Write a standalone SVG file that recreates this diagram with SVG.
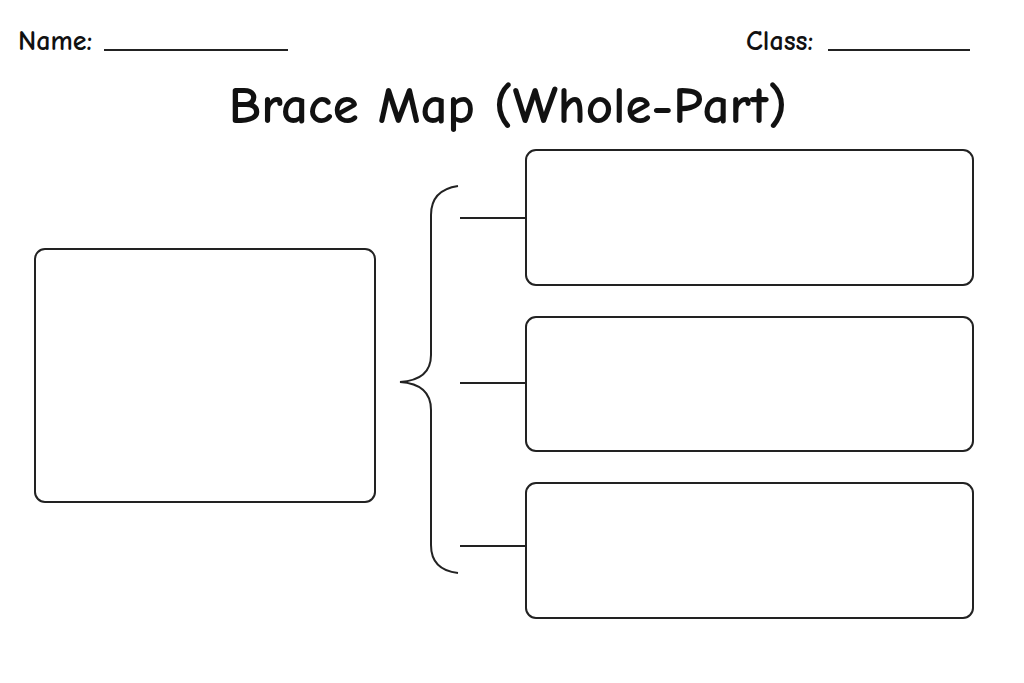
<svg xmlns="http://www.w3.org/2000/svg" width="1024" height="683" viewBox="0 0 1024 683">
<style>
.t{font-family:"Comic Neue","DejaVu Sans",sans-serif;fill:#111}
.box{fill:#fff;stroke:#222;stroke-width:2}
.ln{stroke:#222;stroke-width:2;fill:none}
</style>
<rect width="1024" height="683" fill="#fff"/>
<text class="t" x="18" y="50" font-size="28" font-weight="bold">Name:</text>
<line class="ln" x1="104" y1="50" x2="288" y2="50"/>
<text class="t" x="746" y="50" font-size="28" font-weight="bold">Class:</text>
<line class="ln" x1="828" y1="50" x2="970" y2="50"/>
<text class="t" x="508" y="123" font-size="53" font-weight="bold" text-anchor="middle">Brace Map (Whole-Part)</text>
<g id="whole"><rect class="box" x="35" y="249" width="340" height="253" rx="10"/></g>
<g id="part1"><rect class="box" x="526" y="150" width="447" height="135" rx="10"/></g>
<g id="part2"><rect class="box" x="526" y="317" width="447" height="134" rx="10"/></g>
<g id="part3"><rect class="box" x="526" y="483" width="447" height="135" rx="10"/></g>
<g id="connectors">
<path class="ln" d="M458 186 Q431 190 431 215 L431 355 Q431 380 400 382 Q431 384 431 410 L431 545 Q431 570 458 573"/>
<line class="ln" x1="460" y1="218" x2="526" y2="218"/>
<line class="ln" x1="460" y1="383" x2="526" y2="383"/>
<line class="ln" x1="460" y1="546" x2="526" y2="546"/>
</g>
</svg>
